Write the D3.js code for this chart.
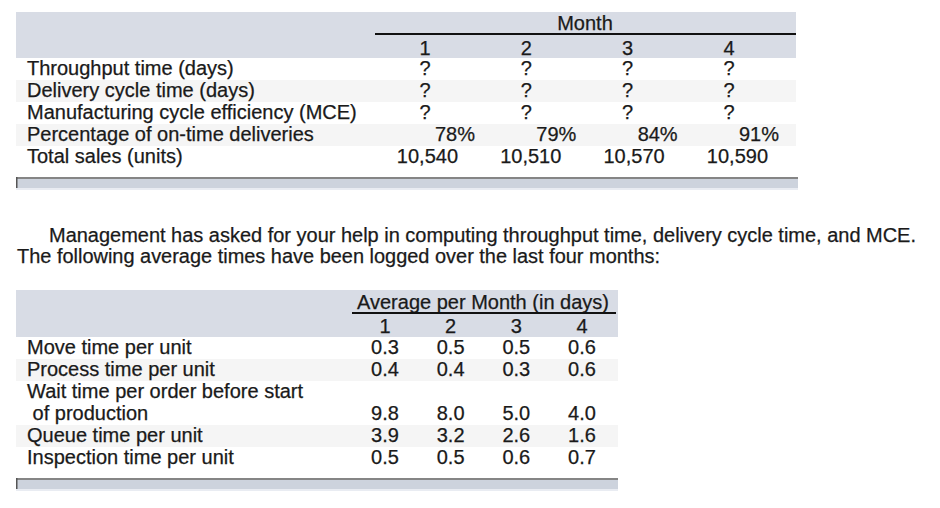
<!DOCTYPE html>
<html>
<head>
<meta charset="utf-8">
<script src="https://cdn.jsdelivr.net/npm/d3@7"></script>
<style>
  body { margin: 0; background: #fff; }
  text { font-family: "Liberation Sans", Arial, Helvetica, sans-serif; fill: #1a1a1a; stroke: #1a1a1a; stroke-width: 0.25px; font-size: 20px; }
</style>
</head>
<body>
<div id="viz"></div>
<script>
// table 1 data
const months = ['1', '2', '3', '4'];
const measures = ['Throughput time (days)', 'Delivery cycle time (days)',
  'Manufacturing cycle efficiency (MCE)', 'Percentage of on-time deliveries', 'Total sales (units)'];
const unknown = ['?', '?', '?', '?'];
const onTime = ['78%', '79%', '84%', '91%'];
const sales = ['10,540', '10,510', '10,570', '10,590'];

// paragraph
const note = ['Management has asked for your help in computing throughput time, delivery cycle time, and MCE.',
  'The following average times have been logged over the last four months:'];

// table 2 data
const timeRows = ['Move time per unit', 'Process time per unit', 'Wait time per order before start',
  ' of production', 'Queue time per unit', 'Inspection time per unit'];
const moveTime = [0.3, 0.5, 0.5, 0.6];
const processTime = [0.4, 0.4, 0.3, 0.6];
const waitTime = [9.8, 8.0, 5.0, 4.0];
const queueTime = [3.9, 3.2, 2.6, 1.6];
const inspectTime = [0.5, 0.5, 0.6, 0.7];

const band = '#d8dce5', stripe = '#f5f5f5';

let svg = d3.select('#viz').append('svg')
  .attr('width', 940).attr('height', 508);

svg.append('rect').attr('width', 940).attr('height', 508).attr('fill', '#fff');

function footBar(x0, x1, y) {
  svg.append('rect').attr('x', x0).attr('y', y).attr('width', x1 - x0).attr('height', 11).attr('fill', '#cdd3dd');
  svg.append('rect').attr('x', x0).attr('y', y + 11).attr('width', x1 - x0).attr('height', 2).attr('fill', '#e9ecf2');
  svg.append('rect').attr('x', x0).attr('y', y).attr('width', x1 - x0).attr('height', 2).attr('fill', '#858585');
  svg.append('rect').attr('x', x0).attr('y', y).attr('width', 1.5).attr('height', 11).attr('fill', '#555');
}

// ---------- table 1 ----------
let y1 = d3.scaleBand().domain(measures).range([58, 168]);
let colQ = d3.scalePoint().domain(months).range([425, 729]);
let colPct = d3.scalePoint().domain(months).range([475, 779]);
let colSales = d3.scalePoint().domain(months).range([458, 768]);

svg.append('rect').attr('x', 16).attr('y', 12).attr('width', 780).attr('height', 46).attr('fill', band);
svg.selectAll('.stripe1')
  .data(measures.filter((d, i) => i % 2 == 1))
  .enter().append('rect')
  .attr('x', 16).attr('width', 780)
  .attr('y', d => y1(d)).attr('height', y1.bandwidth())
  .attr('fill', stripe);

svg.append('text').attr('x', 585).attr('y', 30).attr('text-anchor', 'middle')
  .text('Month');
svg.append('rect').attr('x', 375).attr('y', 33).attr('width', 421).attr('height', 2).attr('fill', '#111');

svg.selectAll('.mh1')
  .data(months).enter().append('text')
  .attr('x', d => colQ(d)).attr('y', 55)
  .attr('text-anchor', 'middle')
  .text(d => d);

svg.selectAll('.lab1')
  .data(measures).enter().append('text')
  .attr('x', 27).attr('y', d => y1(d) + 17)
  .text(d => d);

measures.slice(0, 3).forEach(function(m) {
  svg.selectAll(null)
    .data(unknown).enter().append('text')
    .attr('x', (d, i) => colQ(months[i])).attr('y', y1(m) + 17)
    .attr('text-anchor', 'middle')
    .text(d => d);
});

svg.selectAll('.pct')
  .data(onTime).enter().append('text')
  .attr('x', (d, i) => colPct(months[i])).attr('y', y1(measures[3]) + 17)
  .attr('text-anchor', 'end')
  .text(d => d);

svg.selectAll('.sales')
  .data(sales).enter().append('text')
  .attr('x', (d, i) => colSales(months[i])).attr('y', y1(measures[4]) + 17)
  .attr('text-anchor', 'end')
  .text(d => d);

footBar(16, 798, 177);

// ---------- paragraph ----------
svg.append('text').attr('x', 49).attr('y', 242)
  .attr('textLength', 867).attr('lengthAdjust', 'spacingAndGlyphs')
  .text(note[0]);
svg.append('text').attr('x', 17).attr('y', 263)
  .attr('textLength', 643).attr('lengthAdjust', 'spacingAndGlyphs')
  .text(note[1]);

// ---------- table 2 ----------
let y2 = d3.scaleBand().domain(timeRows).range([337, 469]);
let col2 = d3.scalePoint().domain(months).range([385, 582]);

svg.append('rect').attr('x', 16).attr('y', 290).attr('width', 602).attr('height', 47).attr('fill', band);
[timeRows[1], timeRows[4]].forEach(function(r) {
  svg.append('rect').attr('x', 16).attr('width', 602)
    .attr('y', y2(r)).attr('height', y2.bandwidth()).attr('fill', stripe);
});

svg.append('text').attr('x', 483).attr('y', 309).attr('text-anchor', 'middle')
  .text('Average per Month (in days)');
svg.append('rect').attr('x', 352).attr('y', 312).attr('width', 264).attr('height', 2).attr('fill', '#111');

svg.selectAll('.mh2')
  .data(months).enter().append('text')
  .attr('x', d => col2(d)).attr('y', 333)
  .attr('text-anchor', 'middle')
  .text(d => d);

svg.selectAll('.lab2')
  .data(timeRows).enter().append('text')
  .attr('x', 27).attr('y', d => y2(d) + 17)
  .style('white-space', 'pre')
  .text(d => d);

let valueRows = [[timeRows[0], moveTime], [timeRows[1], processTime], [timeRows[3], waitTime],
  [timeRows[4], queueTime], [timeRows[5], inspectTime]];

valueRows.forEach(function(r) {
  svg.selectAll(null)
    .data(r[1]).enter().append('text')
    .attr('x', (d, i) => col2(months[i])).attr('y', y2(r[0]) + 17)
    .attr('text-anchor', 'middle')
    .text(d => d3.format('.1f')(d));
});

footBar(16, 618, 478);
</script>
</body>
</html>
